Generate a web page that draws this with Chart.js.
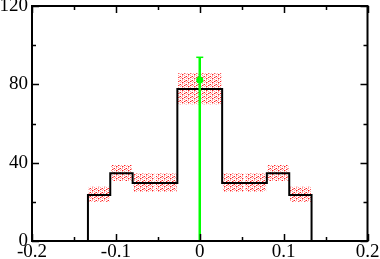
<!DOCTYPE html>
<html>
<head>
<meta charset="utf-8">
<script src="https://cdn.jsdelivr.net/npm/chart.js@4"></script>
<style>
  html, body { margin: 0; padding: 0; background: #fff; }
  #wrap { width: 380px; height: 259px; }
</style>
</head>
<body>
<div id="wrap"><canvas id="grafico"></canvas></div>
<script>
// histograma (linea negra)
var binEdges = [-0.1333, -0.1067, -0.08, -0.0267, 0.0267, 0.08, 0.1067, 0.1333];
var binCounts = [23.5, 34.6, 29.6, 77.6, 29.6, 34.6, 23.5];

// bandas de error (rayado rojo)
var bandEdges = [-0.1333, -0.1067, -0.08, -0.0533, -0.0267, 0, 0.0267, 0.0533, 0.08, 0.1067, 0.1333];
var bandLow = [19.6, 30.3, 24.7, 24.7, 69.5, 69.5, 24.7, 24.7, 30.3, 19.6];
var bandHigh = [28.1, 39.2, 34.9, 34.9, 86.0, 86.0, 34.9, 34.9, 39.2, 28.1];

// medida (verde)
var dataX = [0];
var dataY = [82.2];
var dataErrLow = [82.2];
var dataErrHigh = [11.6];

// ticks
var xTicks = [-0.2, -0.1, 0, 0.1, 0.2];
var xMinor = [-0.15, -0.05, 0.05, 0.15];
var yTicks = [0, 40, 80, 120];
var yMinor = [20, 60, 100];

/**
 * Patron rayado rojo para las bandas
 */
var crearPatron = function() {
    var c = document.createElement('canvas');
    c.width = 6; c.height = 4;
    var g = c.getContext('2d');
    var filas = [
        'R P  P',
        ' P  RP',
        'P RP  ',
        '  P P '
    ];
    filas.forEach(function(fila, j) {
        for (var i = 0; i < fila.length; i++) {
            if (fila[i] === 'R') { g.fillStyle = '#ff2020'; g.fillRect(i, j, 1, 1); }
            if (fila[i] === 'P') { g.fillStyle = '#ffa0a0'; g.fillRect(i, j, 1, 1); }
        }
    });
    return g.createPattern(c, 'repeat');
};

/**
 * Puntos del histograma en escalon
 */
var obtenerEscalon = function() {
    var pts = [{x: binEdges[0], y: 0}];
    binCounts.forEach(function(v, i) {
        pts.push({x: binEdges[i], y: v});
        pts.push({x: binEdges[i + 1], y: v});
    });
    pts.push({x: binEdges[binEdges.length - 1], y: 0});
    return pts;
};

var patron = crearPatron();
var datasets = [];

datasets.push({
    type: 'scatter',
    data: dataX.map(function(x, i) { return {x: x, y: dataY[i]}; }),
    pointRadius: 3.5,
    pointBackgroundColor: '#00ff00',
    pointBorderWidth: 0,
    order: 0
});

datasets.push({
    data: obtenerEscalon(),
    borderColor: '#000',
    borderWidth: 2,
    pointRadius: 0,
    fill: false,
    order: 1
});

bandLow.forEach(function(lo, i) {
    var hi = bandHigh[i], a = bandEdges[i], b = bandEdges[i + 1];
    datasets.push({
        data: [{x: a, y: lo}, {x: b, y: lo}, {x: b, y: hi}, {x: a, y: hi}, {x: a, y: lo}],
        borderColor: '#fff',
        borderWidth: 1.5,
        backgroundColor: patron,
        pointRadius: 0,
        fill: 'shape',
        order: 2
    });
});

var barrasError = {
    id: 'barrasError',
    afterDatasetsDraw: function(chart) {
        var ctx = chart.ctx, sx = chart.scales.x, sy = chart.scales.y;
        ctx.save();
        ctx.strokeStyle = '#00ff00';
        dataX.forEach(function(v, i) {
            var px = sx.getPixelForValue(v);
            var top = sy.getPixelForValue(dataY[i] + dataErrHigh[i]);
            var bot = sy.getPixelForValue(dataY[i] - dataErrLow[i]);
            ctx.lineWidth = 2.5;
            ctx.beginPath(); ctx.moveTo(px, bot); ctx.lineTo(px, top); ctx.stroke();
            ctx.lineWidth = 1.5;
            ctx.beginPath(); ctx.moveTo(px - 3.5, top); ctx.lineTo(px + 3.5, top); ctx.stroke();
        });
        ctx.restore();
    }
};

var marcoTicks = {
    id: 'marcoTicks',
    afterDraw: function(chart) {
        var ctx = chart.ctx, a = chart.chartArea, sx = chart.scales.x, sy = chart.scales.y;
        ctx.save();
        ctx.strokeStyle = '#000';
        ctx.lineWidth = 1.5;
        var marcasX = function(lista, largo) {
            lista.forEach(function(v) {
                var px = Math.round(sx.getPixelForValue(v)) + 0.5;
                ctx.beginPath();
                ctx.moveTo(px, a.bottom); ctx.lineTo(px, a.bottom - largo);
                ctx.moveTo(px, a.top); ctx.lineTo(px, a.top + largo);
                ctx.stroke();
            });
        };
        var marcasY = function(lista, largo) {
            lista.forEach(function(v) {
                var py = Math.round(sy.getPixelForValue(v)) + 0.5;
                ctx.beginPath();
                ctx.moveTo(a.left, py); ctx.lineTo(a.left + largo, py);
                ctx.moveTo(a.right, py); ctx.lineTo(a.right - largo, py);
                ctx.stroke();
            });
        };
        marcasX(xTicks, 7); marcasX(xMinor, 4);
        marcasY(yTicks, 7); marcasY(yMinor, 4);
        ctx.lineWidth = 2;
        ctx.strokeRect(a.left, a.top, a.right - a.left, a.bottom - a.top);
        ctx.restore();
    }
};

var fuente = {family: '"Liberation Serif", "Times New Roman", serif', size: 19};

new Chart(document.getElementById('grafico'), {
    type: 'line',
    data: {datasets: datasets},
    options: {
        responsive: true,
        maintainAspectRatio: false,
        animation: false,
        layout: {padding: {top: 6, right: 12.5, left: 0, bottom: 0}},
        plugins: {legend: {display: false}, tooltip: {enabled: false}},
        scales: {
            x: {
                type: 'linear', min: -0.2, max: 0.2,
                grid: {display: false, drawTicks: false},
                border: {display: false},
                afterBuildTicks: function(s) { s.ticks = xTicks.map(function(v) { return {value: v}; }); },
                afterFit: function(s) { s.height = 18; s.paddingLeft = 0; s.paddingRight = 0; },
                ticks: {font: fuente, color: '#000', padding: 0, maxRotation: 0, autoSkip: false,
                        callback: function(v) { return String(v); }}
            },
            y: {
                type: 'linear', min: 0, max: 120,
                grid: {display: false, drawTicks: false},
                border: {display: false},
                afterBuildTicks: function(s) { s.ticks = yTicks.map(function(v) { return {value: v}; }); },
                afterFit: function(s) { s.width = 32; s.paddingTop = 0; s.paddingBottom = 0; },
                ticks: {font: fuente, color: '#000', padding: 4,
                        callback: function(v) { return String(v); }}
            }
        }
    },
    plugins: [barrasError, marcoTicks]
});
</script>
</body>
</html>
